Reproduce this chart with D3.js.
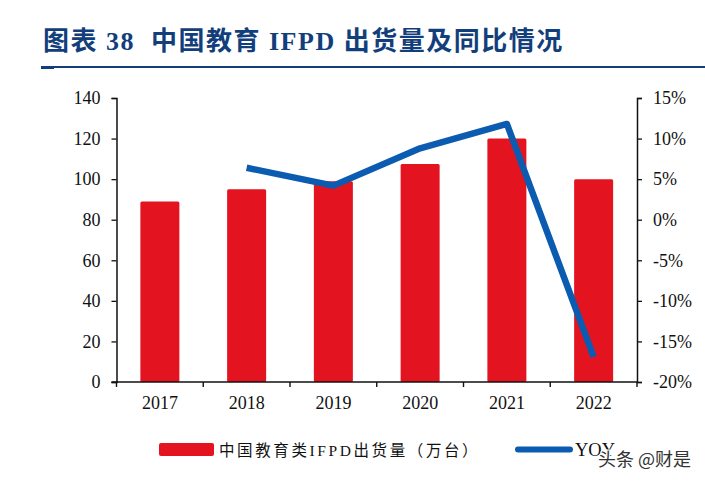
<!DOCTYPE html>
<html>
<head>
<meta charset="utf-8">
<script src="https://cdn.jsdelivr.net/npm/d3@7"></script>
<style>
  html, body { margin: 0; padding: 0; background: #fff; }
  text { font-family: "Liberation Serif", "Noto Sans CJK SC", serif; fill: #111; }
</style>
</head>
<body>
<svg id="mySvg" width="705" height="481" style="display:block"></svg>
<script>
const years = ["2017", "2018", "2019", "2020", "2021", "2022"];
const shipments = [89, 95, 99, 107.5, 120, 100];
const yoy = [null, 6.4, 4.2, 8.8, 11.8, -16.9];
const leftTicks = [0, 20, 40, 60, 80, 100, 120, 140];
const rightTicks = [-20, -15, -10, -5, 0, 5, 10, 15];

const svg = d3.select("#mySvg");

// plot area
const plotLeft = 116.5, plotRight = 637, plotTop = 98, plotBottom = 382;

const x = d3.scaleBand().domain(years).range([plotLeft, plotRight]);
const yLeft = d3.scaleLinear().domain([0, 140]).range([plotBottom, plotTop]);
const yRight = d3.scaleLinear().domain([-20, 15]).range([plotBottom, plotTop]);

// title
svg.append("text")
  .attr("x", 43)
  .attr("y", 50)
  .attr("font-size", 26)
  .attr("font-weight", "bold")
  .style("fill", "#123f7c")
  .style("letter-spacing", "1.5px")
  .style("white-space", "pre")
  .text("图表 38  中国教育 IFPD 出货量及同比情况");

svg.append("line")
  .attr("x1", 41).attr("x2", 705)
  .attr("y1", 67).attr("y2", 67)
  .attr("stroke", "#123f7c")
  .attr("stroke-width", 2);
svg.append("line")
  .attr("x1", 41).attr("x2", 54)
  .attr("y1", 68).attr("y2", 68)
  .attr("stroke", "#123f7c")
  .attr("stroke-width", 2);

// bars
svg.selectAll(".bar")
  .data(years)
  .enter()
  .append("rect")
  .attr("class", "bar")
  .attr("x", (d) => x(d) + x.bandwidth() / 2 - 19.5)
  .attr("y", (d, i) => yLeft(shipments[i]))
  .attr("width", 39)
  .attr("height", (d, i) => plotBottom - yLeft(shipments[i]))
  .attr("rx", 1.5)
  .attr("fill", "#e3141f");

// axes
const axisLeft = d3.axisLeft(yLeft).tickValues(leftTicks).tickSize(5).tickPadding(11);
const axisRight = d3.axisRight(yRight).tickValues(rightTicks).tickSize(5).tickPadding(11)
  .tickFormat((d) => d + "%");

svg.append("g").attr("class", "axis").attr("transform", `translate(${plotLeft},0)`).call(axisLeft);
svg.append("g").attr("class", "axis").attr("transform", `translate(${plotRight},0)`).call(axisRight);

const axisBottom = svg.append("g").attr("class", "axis");
axisBottom.append("line")
  .attr("x1", plotLeft - 5).attr("x2", plotRight)
  .attr("y1", plotBottom).attr("y2", plotBottom);
axisBottom.selectAll(".tick-x")
  .data(years.concat(["end"]))
  .enter()
  .append("line")
  .attr("class", "tick-x")
  .attr("x1", (d, i) => plotLeft + i * x.step())
  .attr("x2", (d, i) => plotLeft + i * x.step())
  .attr("y1", plotBottom)
  .attr("y2", plotBottom + 5);
axisBottom.selectAll(".label-x")
  .data(years)
  .enter()
  .append("text")
  .attr("class", "label-x")
  .attr("x", (d) => x(d) + x.bandwidth() / 2)
  .attr("y", 409)
  .attr("text-anchor", "middle")
  .attr("font-size", 18)
  .text((d) => d);

svg.selectAll(".axis .domain").attr("stroke", "#111").attr("stroke-width", 1.5);
svg.selectAll(".axis .tick line").attr("stroke", "#111").attr("stroke-width", 1.3);
svg.selectAll(".axis > line").attr("stroke", "#111").attr("stroke-width", 1.4);
svg.selectAll(".axis .tick text").attr("font-size", 18).style("font-family", '"Liberation Serif", serif');

// line
const line = d3.line()
  .defined((d) => d !== null)
  .x((d, i) => x(years[i]) + x.bandwidth() / 2)
  .y((d) => yRight(d));

svg.append("path")
  .datum(yoy)
  .attr("d", line)
  .attr("fill", "none")
  .attr("stroke", "#0b5cb0")
  .attr("stroke-width", 6.5)
  .attr("stroke-linejoin", "round");

// legend
svg.append("rect")
  .attr("x", 159).attr("y", 443)
  .attr("width", 55).attr("height", 13)
  .attr("rx", 2)
  .attr("fill", "#e3141f");
svg.append("text")
  .attr("x", 219).attr("y", 456)
  .attr("font-size", 15.5)
  .style("letter-spacing", "2.6px")
  .text("中国教育类IFPD出货量（万台）");

svg.append("line")
  .attr("x1", 518).attr("x2", 570)
  .attr("y1", 449.5).attr("y2", 449.5)
  .attr("stroke", "#0b5cb0")
  .attr("stroke-width", 6)
  .attr("stroke-linecap", "round");
svg.append("text")
  .attr("x", 575).attr("y", 456)
  .attr("font-size", 18.5)
  .text("YOY");

// watermark
svg.append("text")
  .attr("x", 598).attr("y", 466)
  .attr("font-size", 18)
  .style("font-family", '"Noto Sans CJK SC", sans-serif')
  .style("fill", "#333")
  .style("paint-order", "stroke")
  .style("stroke", "#fff")
  .style("stroke-width", "2px")
  .text("头条 @财是");
</script>
</body>
</html>
